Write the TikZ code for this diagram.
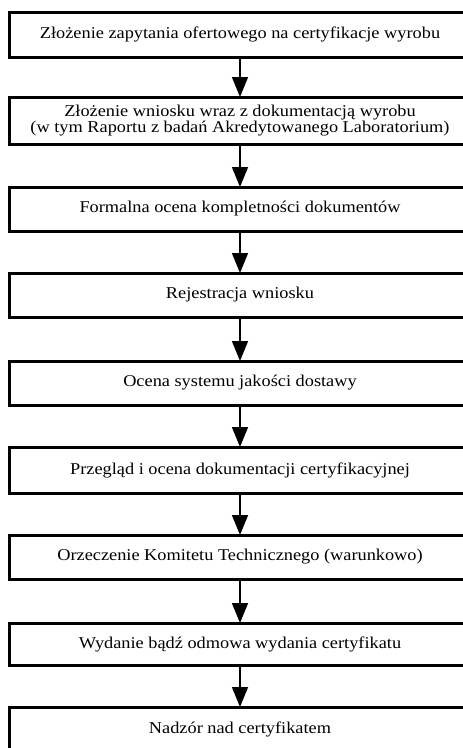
\documentclass[tikz,border=0pt]{standalone}
\usepackage{fontspec}
\setmainfont{Liberation Serif}[FakeStretch=1.11]
\usetikzlibrary{arrows.meta}
\begin{document}
\begin{tikzpicture}[x=1pt,y=1pt,
  stepbox/.style={draw=black, line width=3pt, minimum width=461pt, inner sep=0pt, outer sep=0pt, align=center,
    font=\fontsize{16.5}{16}\selectfont},
  flow/.style={line width=1.5pt, -{Triangle[length=20pt,width=16pt]}}]
\useasboundingbox (0,0) rectangle (463,-748);
\node[stepbox, minimum height=45pt] (b1) at (240,-34.5) {Złożenie zapytania ofertowego na certyfikacje wyrobu};
\node[stepbox, minimum height=47pt] (b2) at (240,-120.5) {Złożenie wniosku wraz z dokumentacją wyrobu\\(w tym Raportu z badań Akredytowanego Laboratorium)};
\node[stepbox, minimum height=44pt] (b3) at (240,-209) {Formalna ocena kompletności dokumentów};
\node[stepbox, minimum height=44pt] (b4) at (240,-295) {Rejestracja wniosku};
\node[stepbox, minimum height=44pt] (b5) at (240,-383) {Ocena systemu jakości dostawy};
\node[stepbox, minimum height=46pt] (b6) at (240,-470) {Przegląd i ocena dokumentacji certyfikacyjnej};
\node[stepbox, minimum height=44pt] (b7) at (240,-557) {Orzeczenie Komitetu Technicznego (warunkowo)};
\node[stepbox, minimum height=42pt] (b8) at (240,-644) {Wydanie bądź odmowa wydania certyfikatu};
\node[stepbox, minimum height=45pt] (b9) at (240,-729.5) {Nadzór nad certyfikatem};
\draw[flow] (b1) -- (b2);
\draw[flow] (b2) -- (b3);
\draw[flow] (b3) -- (b4);
\draw[flow] (b4) -- (b5);
\draw[flow] (b5) -- (b6);
\draw[flow] (b6) -- (b7);
\draw[flow] (b7) -- (b8);
\draw[flow] (b8) -- (b9);
\end{tikzpicture}
\end{document}
